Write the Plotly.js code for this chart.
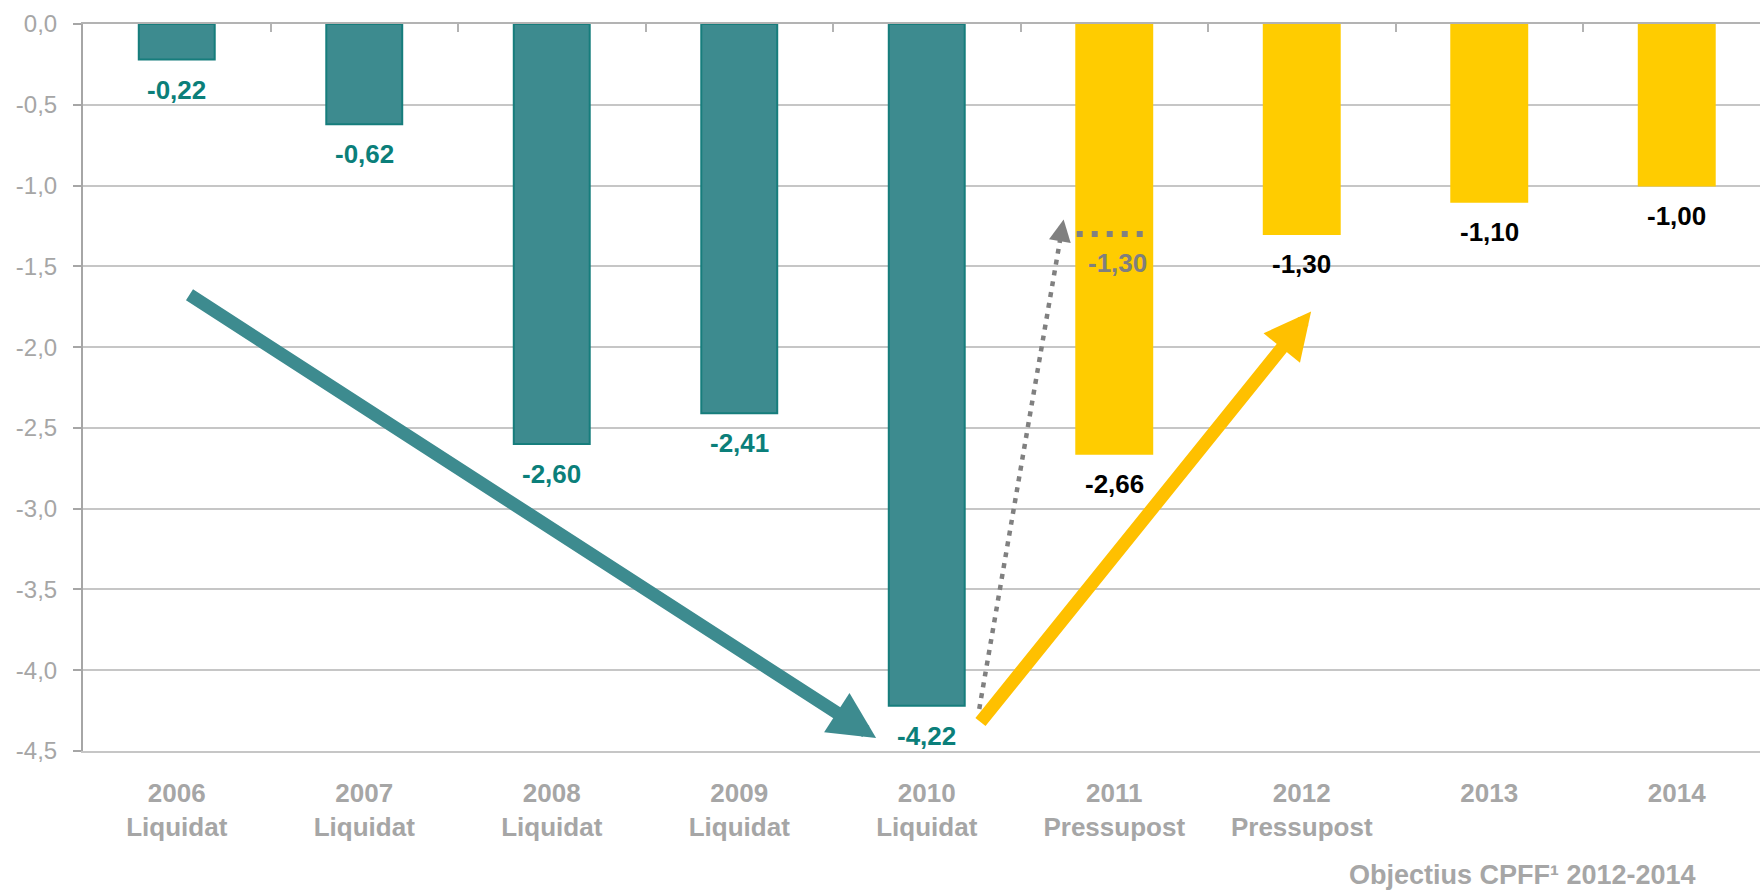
<!DOCTYPE html>
<html>
<head>
<meta charset="utf-8">
<script src="https://cdn.plot.ly/plotly-3.0.1.min.js"></script>
<style>html,body{margin:0;padding:0;background:#fff;}#chart{width:1760px;height:893px;}</style>
</head>
<body>
<div id="chart"></div>
<script>
// ---- data ----
const years = ['2006','2007','2008','2009','2010','2011','2012','2013','2014'];
const status = ['Liquidat','Liquidat','Liquidat','Liquidat','Liquidat','Pressupost','Pressupost','',''];
const balance = [-0.22, -0.62, -2.60, -2.41, -4.22, -2.66, -1.30, -1.10, -1.00];
const barKind = ['liq','liq','liq','liq','liq','obj','obj','obj','obj'];
const budget2011 = -1.30;           // pressupost 2011 target (dotted line)
const yTicks = [0, -0.5, -1.0, -1.5, -2.0, -2.5, -3.0, -3.5, -4.0, -4.5];
// trend arrows: [x0, y0, x1, y1] in category index / value units
const downArrow = [0.06, -1.67, 3.73, -4.42];
const upArrow = [4.28, -4.33, 6.05, -1.78];
const dottedArrow = [4.28, -4.24, 4.73, -1.21];

const categories = years.map((y, i) => status[i] ? y + '<br>' + status[i] : y);
const idx = years.map((_, i) => i);
const boundaries = idx.slice(0, -1).map(i => i + 0.5);
const TEAL = '#3d8b8f', TEAL_LINE = '#167d7c', TEAL_TXT = '#0b7f7a', GOLD = '#ffcc00';
const FONT = 'Arial, "Liberation Sans", sans-serif';
const fmt = v => v.toFixed(2).replace('.', ',');

const trace = {
  type: 'bar',
  x: idx,
  y: balance,
  width: 0.405,
  marker: {
    color: barKind.map(k => k === 'liq' ? TEAL : GOLD),
    line: {color: barKind.map(k => k === 'liq' ? TEAL_LINE : GOLD), width: 2}
  },
  hoverinfo: 'skip'
};
// empty helper trace so the top category-boundary axis is drawn
const topAxisTrace = {type: 'scatter', mode: 'markers', x: [], y: [], xaxis: 'x2', yaxis: 'y', hoverinfo: 'skip'};

const annotations = balance.map((v, i) => ({
  x: i, y: v, xref: 'x', yref: 'y', text: '<b>' + fmt(v) + '</b>',
  showarrow: false, yanchor: 'top', yshift: -13,
  font: {family: FONT, size: 26, color: barKind[i] === 'liq' ? TEAL_TXT : '#000000'}
}));
annotations.push({
  x: 5, y: budget2011, xref: 'x', yref: 'y', text: '<b>' + fmt(budget2011) + '</b>',
  showarrow: false, yanchor: 'top', yshift: -12, xshift: 3,
  font: {family: FONT, size: 26, color: '#7f7f7f'}
});
function arrow(a, color, w, size) {
  return {x: a[2], y: a[3], ax: a[0], ay: a[1], xref: 'x', yref: 'y', axref: 'x', ayref: 'y',
    text: '', showarrow: true, arrowhead: 2, arrowwidth: w, arrowsize: size, arrowcolor: color,
    standoff: 0, startstandoff: 0};
}
annotations.push(arrow(downArrow, TEAL, 13, 0.72));
annotations.push(arrow(upArrow, '#ffc000', 13, 0.72));
// dotted arrow head only (short segment at tip)
const dx = dottedArrow[2] - dottedArrow[0], dy = dottedArrow[3] - dottedArrow[1];
annotations.push(arrow([dottedArrow[2] - dx * 0.03, dottedArrow[3] - dy * 0.03, dottedArrow[2], dottedArrow[3]], '#808080', 2, 2.2));
annotations.push({
  xref: 'paper', yref: 'paper', x: 0.963, y: -0.171, xanchor: 'right', yanchor: 'middle',
  text: '<b>Objectius CPFF¹ 2012-2014</b>', showarrow: false,
  font: {family: FONT, size: 27, color: '#a6a6a6'}
});

const shapes = [
  {type: 'line', xref: 'x', yref: 'y', x0: 5 - 0.2, x1: 5 + 0.2, y0: budget2011, y1: budget2011,
   line: {color: '#808080', width: 6, dash: '6px,9px'}},
  {type: 'line', xref: 'x', yref: 'y', x0: dottedArrow[0], y0: dottedArrow[1],
   x1: dottedArrow[2] - dx * 0.02, y1: dottedArrow[3] - dy * 0.02,
   line: {color: '#808080', width: 4.5, dash: '5px,6px'}}
];

const layout = {
  width: 1760, height: 893,
  margin: {l: 83, r: 0, t: 24, b: 142},
  paper_bgcolor: '#ffffff', plot_bgcolor: '#ffffff',
  separators: ',.',
  showlegend: false,
  font: {family: FONT, color: '#a6a6a6'},
  xaxis: {
    type: 'linear', range: [-0.5, 8.444],
    tickvals: idx, ticktext: categories.map(c => '<b>' + c + '</b>'),
    tickfont: {family: FONT, size: 26, color: '#a6a6a6'},
    showgrid: false, zeroline: false, showline: true, linecolor: '#c6c6c6', linewidth: 2,
    ticks: 'outside', ticklen: 18, tickcolor: 'rgba(0,0,0,0)'
  },
  xaxis2: {
    type: 'linear', range: [-0.5, 8.444], overlaying: 'x', side: 'top', anchor: 'y',
    tickvals: boundaries, showticklabels: false,
    ticks: 'inside', ticklen: 8, tickwidth: 2, tickcolor: '#b3b3b3',
    showline: true, linecolor: '#b3b3b3', linewidth: 2, showgrid: false, zeroline: false
  },
  yaxis: {
    range: [-4.5, 0], tickvals: yTicks, ticktext: yTicks.map(v => v.toFixed(1).replace('.', ',')),
    tickfont: {family: FONT, size: 24, color: '#a6a6a6'},
    showgrid: true, gridcolor: '#c6c6c6', gridwidth: 2,
    zeroline: false, showline: true, linecolor: '#a6a6a6', linewidth: 2,
    ticks: 'outside', ticklen: 8, tickwidth: 2, tickcolor: '#a6a6a6', ticklabelstandoff: 11
  },
  annotations: annotations,
  shapes: shapes
};

Plotly.newPlot('chart', [trace, topAxisTrace], layout, {staticPlot: true, displayModeBar: false});
</script>
</body>
</html>
